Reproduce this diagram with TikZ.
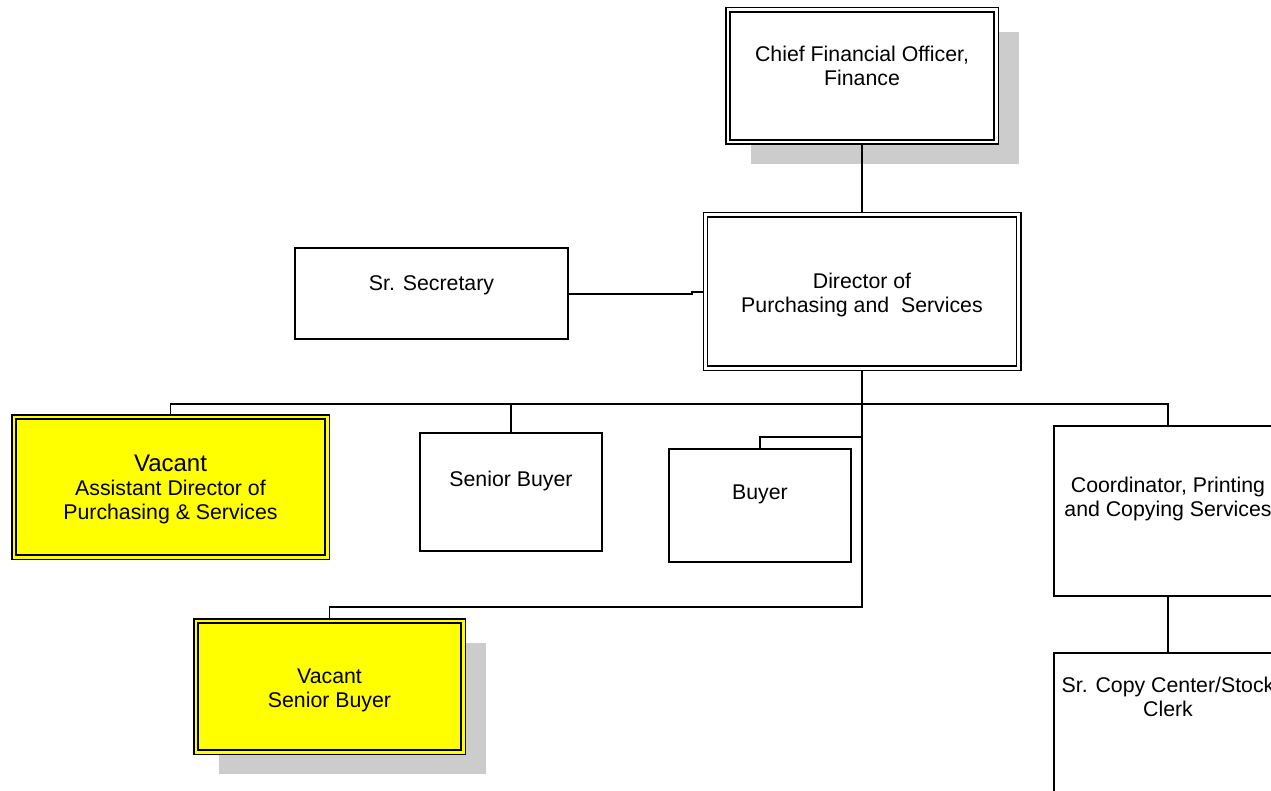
\documentclass[tikz,border=0pt]{standalone}
\usepackage{fontspec}
\setmainfont{Liberation Sans}
\usetikzlibrary{shadows}
\definecolor{shadowgray}{RGB}{204,204,204}
\definecolor{vacyellow}{RGB}{255,255,0}
\begin{document}
\begin{tikzpicture}[x=1pt,y=-1pt,
  box/.style={draw,fill=white,line width=1.6pt,rectangle,inner sep=0pt},
  dbox/.style={draw,fill=white,line width=1.5pt,double=white,double distance=2.6pt,outer sep=2.8pt,rectangle,inner sep=0pt},
  ybox/.style={dbox,fill=vacyellow,double=vacyellow},
  shad/.style={drop shadow={shadow xshift=23pt,shadow yshift=-22pt,fill=shadowgray,opacity=1}},
  lbl/.style={align=center,inner sep=0pt,font=\fontsize{21.3}{24}\selectfont},
  conn/.style={line width=1.5pt}]
\useasboundingbox (0,0) rectangle (1271,791);
\clip (0,0) rectangle (1271,791);

% boxes
\node[dbox,shad,minimum width=268.4pt,minimum height=132.4pt] (cfo) at (862,76) {};
\node[dbox,minimum width=313.4pt,minimum height=153.4pt] (dir) at (862,291.5) {};
\node[box,minimum width=273pt,minimum height=91pt] (sec) at (431.5,293.5) {};
\node[ybox,minimum width=313.4pt,minimum height=140.4pt] (vacA) at (170.5,487) {};
\node[box,minimum width=182pt,minimum height=118pt] (sb) at (511,492) {};
\node[box,minimum width=182pt,minimum height=113pt] (buy) at (760,505.5) {};
\node[box,minimum width=228pt,minimum height=170pt] (coord) at (1168,511) {};
\node[ybox,shad,minimum width=267.4pt,minimum height=131.4pt] (vacS) at (329.5,686.5) {};
\node[box,minimum width=228pt,minimum height=170pt] (copy) at (1168,738) {};

% texts
\node[lbl] (cfoT) at (862,66) {Chief Financial Officer,\\Finance};
\node[lbl] (dirT) at (862,295) {Director of\\Purchasing and\ \ Services};
\node[lbl] (secT) at (431.5,285) {Sr. Secretary};
\node[lbl] (sbT) at (511,481) {Senior Buyer};
\node[lbl] (buyT) at (760,494) {Buyer};
\node[lbl] (coordT) at (1168,499) {Coordinator, Printing\\and Copying Services};
\node[lbl] (copyT) at (1168,697) {Sr. Copy Center/Stock\\Clerk};
\node[lbl] (vacAT) at (170.5,489) {{\fontsize{24}{24}\selectfont Vacant}\\Assistant Director of\\Purchasing \& Services};
\node[lbl] (vacST) at (329.5,690) {Vacant\\Senior Buyer};

% connector helpers
\coordinate (j1) at (692,294);
\coordinate (j2) at (692,292);
\coordinate (bus) at (0,404);
\coordinate (tb) at (0,607);
\coordinate (by) at (0,437);

% connectors
\draw[conn] (cfo.south) -- (dir.north);
\draw[conn] (sec.east |- j1) -- (j1) -- (j2) -- (j2 -| dir.west);
\draw[conn] (vacA.north) -- (vacA.north |- bus) -- (coord.north |- bus) -- (coord.north);
\draw[conn] (sb.north) -- (sb.north |- bus);
\draw[conn] (dir.south) -- (dir.south |- tb) -- (vacS.north |- tb) -- (vacS.north);
\draw[conn] (dir.south |- by) -- (buy.north |- by) -- (buy.north);
\draw[conn] (coord.south) -- (copy.north);
\end{tikzpicture}
\end{document}
